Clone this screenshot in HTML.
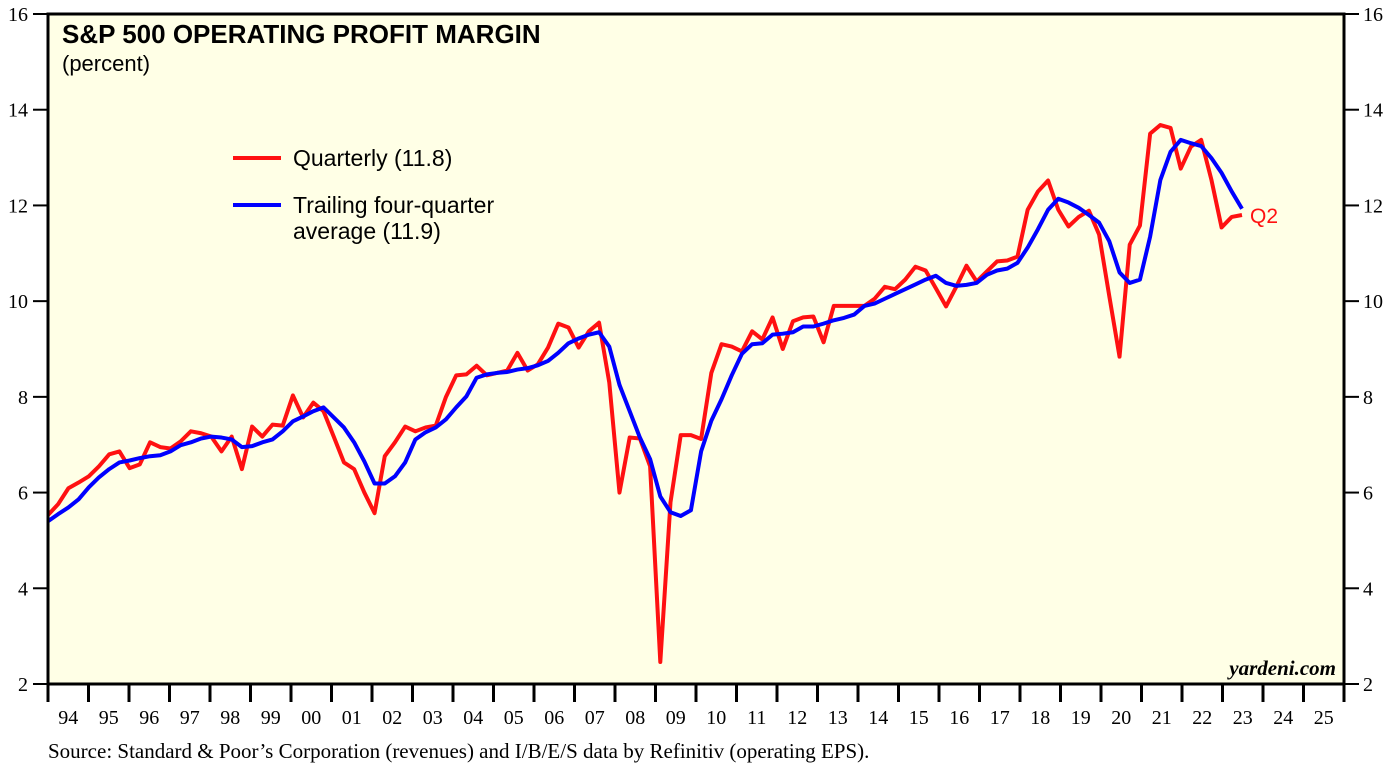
<!DOCTYPE html>
<html><head><meta charset="utf-8"><style>
body{margin:0;background:#fff;width:1394px;height:780px;overflow:hidden}
svg{display:block}
</style></head><body>
<svg id="chart" width="1394" height="780" xmlns="http://www.w3.org/2000/svg">
<rect x="48" y="14" width="1296" height="670" fill="#ffffe6"/>
<g id="grid"></g>
<g id="series"></g>
<rect x="48" y="14" width="1296" height="670" fill="none" stroke="#000" stroke-width="3"/>
<text x="62" y="43" font-family="Liberation Sans, sans-serif" font-weight="bold" font-size="26">S&amp;P 500 OPERATING PROFIT MARGIN</text>
<text x="62" y="71" font-family="Liberation Sans, sans-serif" font-size="22">(percent)</text>
<g>
<line x1="233" y1="158" x2="281" y2="158" stroke="#ff1111" stroke-width="4"/>
<text x="293" y="166" font-family="Liberation Sans, sans-serif" font-size="23">Quarterly (11.8)</text>
<line x1="233" y1="205" x2="281" y2="205" stroke="#0000ff" stroke-width="4"/>
<text x="293" y="213" font-family="Liberation Sans, sans-serif" font-size="23">Trailing four-quarter</text>
<text x="293" y="239" font-family="Liberation Sans, sans-serif" font-size="23">average (11.9)</text>
</g>
<text x="1336" y="675" text-anchor="end" font-family="Liberation Serif, serif" font-style="italic" font-weight="bold" font-size="21">yardeni.com</text>
<text x="48" y="758" font-family="Liberation Serif, serif" font-size="21">Source: Standard &amp; Poor’s Corporation (revenues) and I/B/E/S data by Refinitiv (operating EPS).</text>
</svg>
<script>
const yTicks=[2,4,6,8,10,12,14,16];
const years=["94","95","96","97","98","99","00","01","02","03","04","05","06","07","08","09","10","11","12","13","14","15","16","17","18","19","20","21","22","23","24","25"];
const quarterly=[5.53,5.76,6.09,6.21,6.34,6.55,6.8,6.86,6.51,6.59,7.05,6.95,6.92,7.07,7.28,7.24,7.17,6.86,7.17,6.49,7.38,7.17,7.42,7.4,8.03,7.57,7.88,7.7,7.17,6.63,6.49,6.0,5.57,6.76,7.05,7.38,7.28,7.36,7.4,8.0,8.45,8.47,8.65,8.45,8.5,8.55,8.92,8.55,8.68,9.03,9.53,9.45,9.03,9.37,9.55,8.3,6.0,7.15,7.13,6.55,2.46,5.8,7.2,7.2,7.12,8.5,9.1,9.05,8.95,9.37,9.2,9.66,9.0,9.58,9.66,9.68,9.14,9.9,9.9,9.9,9.9,10.05,10.3,10.25,10.45,10.72,10.64,10.27,9.89,10.3,10.74,10.41,10.62,10.83,10.85,10.93,11.91,12.29,12.52,11.91,11.56,11.76,11.89,11.39,10.1,8.84,11.18,11.58,13.5,13.68,13.62,12.77,13.23,13.37,12.54,11.54,11.76,11.8];
const average=[5.4,5.55,5.69,5.86,6.11,6.32,6.49,6.63,6.67,6.72,6.76,6.78,6.86,6.99,7.05,7.13,7.17,7.15,7.11,6.95,6.97,7.05,7.11,7.28,7.49,7.59,7.7,7.78,7.57,7.36,7.05,6.65,6.19,6.19,6.34,6.63,7.11,7.26,7.36,7.53,7.78,8.01,8.4,8.47,8.5,8.52,8.57,8.6,8.66,8.75,8.92,9.12,9.22,9.3,9.35,9.05,8.25,7.7,7.15,6.7,5.92,5.59,5.51,5.63,6.86,7.5,7.95,8.45,8.9,9.1,9.12,9.3,9.32,9.35,9.47,9.47,9.53,9.6,9.65,9.72,9.9,9.95,10.05,10.15,10.25,10.35,10.45,10.53,10.38,10.32,10.34,10.38,10.55,10.64,10.68,10.8,11.12,11.5,11.91,12.14,12.06,11.95,11.8,11.64,11.25,10.6,10.38,10.45,11.35,12.53,13.12,13.37,13.3,13.24,12.99,12.68,12.29,11.93];
const NS="http://www.w3.org/2000/svg";
const y=v=>684-(v-2)*(670/14);
const xq=i=>48+i*10.205;
const xy=i=>48+i*40.5;
const g=document.getElementById('grid');
function mk(t,a,p){const e=document.createElementNS(NS,t);for(const k in a)e.setAttribute(k,a[k]);p.appendChild(e);return e;}
yTicks.forEach(v=>{
 const l=mk('line',{x1:33,x2:48,y1:y(v),y2:y(v),stroke:'#000','stroke-width':2},g);
 
 
 const r=mk('line',{x1:1344,x2:1359,y1:y(v),y2:y(v),stroke:'#000','stroke-width':2},g);
 
 
 const t=mk('text',{x:28,y:y(v)+7,'text-anchor':'end','font-family':'Liberation Serif, serif','font-size':20},g);
 t.textContent=v;
 
 
 const t2=mk('text',{x:1363,y:y(v)+7,'font-family':'Liberation Serif, serif','font-size':20},g);
 t2.textContent=v;
 
 
});
years.forEach((yr,i)=>{
 const l=mk('line',{x1:xy(i),x2:xy(i),y1:684,y2:702,stroke:'#000','stroke-width':3},g);
 
 
 const t=mk('text',{x:xy(i)+20.25,y:724,'text-anchor':'middle','font-family':'Liberation Serif, serif','font-size':20},g);
 t.textContent=yr;
 
 
});
const l2=mk('line',{x1:1344,x2:1344,y1:684,y2:702,stroke:'#000','stroke-width':3},g);


const s=document.getElementById('series');
const pr=mk('polyline',{points:quarterly.map((v,i)=>xq(i)+','+y(v)).join(' '),fill:'none',stroke:'#ff1111','stroke-width':4,'stroke-linejoin':'round'},s);


const pb=mk('polyline',{points:average.map((v,i)=>xq(i)+','+y(v)).join(' '),fill:'none',stroke:'#0000ff','stroke-width':4,'stroke-linejoin':'round'},s);


const q=mk('text',{x:xq(quarterly.length-1)+8,y:y(quarterly[quarterly.length-1])+8,fill:'#ff1111','font-family':'Liberation Sans, sans-serif','font-size':21},s);
q.textContent='Q2';


</script>
</body></html>
